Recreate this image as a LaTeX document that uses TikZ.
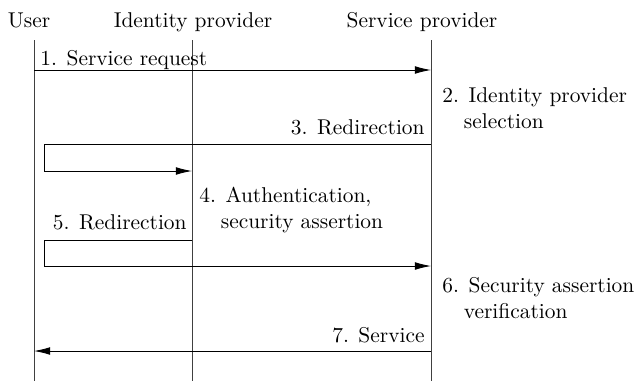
\documentclass[tikz,border=0pt]{standalone}
\usetikzlibrary{arrows.meta}

\tikzset{
  head/.style={anchor=base,inner sep=0pt},
  lifeline/.style={black!75},
  msg/.style={black,-{Latex[length=7.5pt,width=3.6pt]}},
  msgtext/.style={anchor=base east,inner sep=0pt},
  note/.style={anchor=base west,inner sep=0pt,align=left},
}

\begin{document}
\begin{tikzpicture}[x=0.467pt,y=-0.467pt]
    \useasboundingbox (0,0) rectangle (637,381);

    % parties
    \node[head] (user) at (29,27) {User};
    \node[head] (idp) at (193,27) {Identity provider};
    \node[head] (sp) at (422,27) {Service provider};

    % lifelines
    \coordinate (utop) at (34,40);
    \coordinate (ubot) at (34,381);
    \coordinate (itop) at (192,40);
    \coordinate (ibot) at (192,381);
    \coordinate (stop) at (431,40);
    \coordinate (sbot) at (431,381);
    \draw[lifeline] (utop) -- (ubot);
    \draw[lifeline] (itop) -- (ibot);
    \draw[lifeline] (stop) -- (sbot);

    % 1. service request
    \coordinate (u1) at (34,70);
    \coordinate (s1) at (431,70);
    \draw[msg] (u1) -- (s1);
    \node[inner sep=0pt,anchor=base west] (m1) at (40,65) {1. Service request};

    % 2. selection (base = last line)
    \node[note] (n2) at (442,128) {2. Identity provider\\\quad selection};

    % 3. redirection to identity provider
    \coordinate (s3) at (431,144);
    \coordinate (k3a) at (44,144);
    \coordinate (k3b) at (44,171);
    \coordinate (i3) at (192,171);
    \draw[msg] (s3) -- (k3a) -- (k3b) -- (i3);
    \node[msgtext] (m3) at (425,134) {3. Redirection};

    % 4. authentication
    \node[note] (n4) at (199,228) {4. Authentication,\\\quad security assertion};

    % 5. redirection to service provider
    \coordinate (i5) at (192,240);
    \coordinate (k5a) at (44,240);
    \coordinate (k5b) at (44,266);
    \coordinate (s5) at (431,266);
    \draw[msg] (i5) -- (k5a) -- (k5b) -- (s5);
    \node[msgtext] (m5) at (187,229) {5. Redirection};

    % 6. verification
    \node[note] (n6) at (442,318) {6. Security assertion\\\quad verification};

    % 7. service
    \coordinate (s7) at (431,351);
    \coordinate (u7) at (34,351);
    \draw[msg] (s7) -- (u7);
    \node[msgtext] (m7) at (425,342) {7. Service};
\end{tikzpicture}
\end{document}
